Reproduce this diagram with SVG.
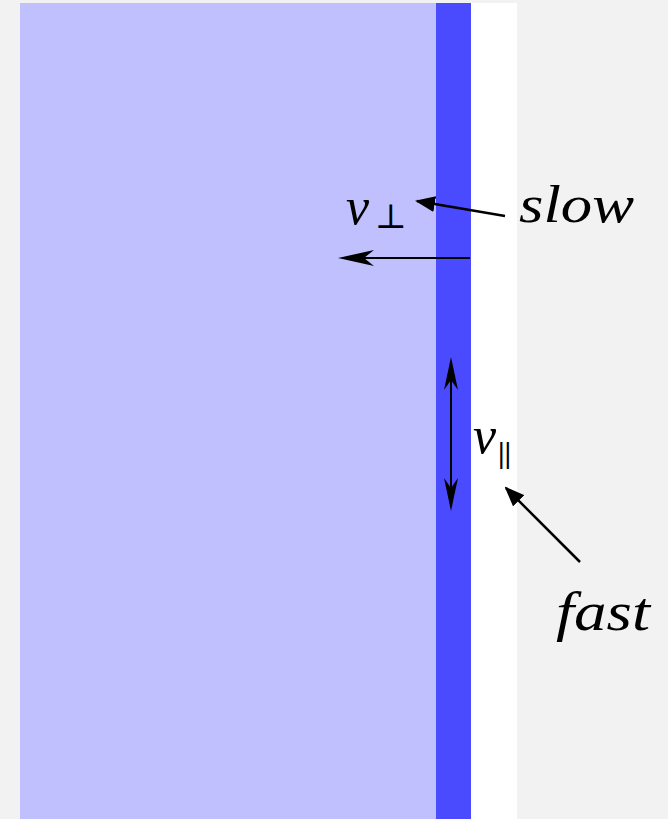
<svg xmlns="http://www.w3.org/2000/svg" width="668" height="819" viewBox="0 0 668 819">
<style>
.lbl{font-family:"Liberation Serif","DejaVu Serif",serif;font-style:italic;fill:#000}
.sub{font-family:"Liberation Serif","DejaVu Serif",serif;fill:#000}
.ln{stroke:#000;fill:none}
</style>
<defs>
<marker id="ah" viewBox="0 0 10 10" refX="9" refY="5" markerWidth="20" markerHeight="16" markerUnits="userSpaceOnUse" orient="auto-start-reverse" preserveAspectRatio="none"><path d="M0,0 L10,5 L0,10 z" fill="#000"/></marker>
</defs>
<rect x="0" y="0" width="668" height="819" fill="#f2f2f2"/>
<g id="medium">
<rect x="20" y="3" width="417" height="816" fill="#c0c0ff"/>
<rect x="436" y="3" width="35" height="816" fill="#4a4aff"/>
<rect x="471" y="3" width="46" height="816" fill="#ffffff"/>
</g>
<g id="connectors">
<line class="ln" x1="470" y1="258" x2="350" y2="258" stroke-width="2"/>
<path d="M338,258 L374,250 L364,258 L374,266 Z" fill="#000"/>
<line class="ln" x1="505" y1="216" x2="417" y2="201" stroke-width="2.5" marker-end="url(#ah)"/>
<line class="ln" x1="451" y1="370" x2="451" y2="498" stroke-width="2"/>
<path d="M451,357 L458,390 L451,380 L444,390 Z" fill="#000"/>
<path d="M451,511 L458,478 L451,488 L444,478 Z" fill="#000"/>
<line class="ln" x1="580" y1="562" x2="506" y2="488" stroke-width="2.5" marker-end="url(#ah)"/>
</g>
<g id="label-vperp">
<text class="lbl" x="346" y="224" font-size="52">v</text>
<text class="sub" x="375" y="228" font-size="34">⊥</text>
</g>
<g id="label-slow"><text class="lbl" x="519" y="222" font-size="52" textLength="115" lengthAdjust="spacingAndGlyphs">slow</text></g>
<g id="label-vpar">
<text class="lbl" x="473" y="453" font-size="52">v</text>
<text class="sub" x="498" y="463" font-size="30" font-weight="bold">||</text>
</g>
<g id="label-fast"><text class="lbl" x="556" y="630" font-size="54" textLength="94" lengthAdjust="spacingAndGlyphs">fast</text></g>
</svg>
